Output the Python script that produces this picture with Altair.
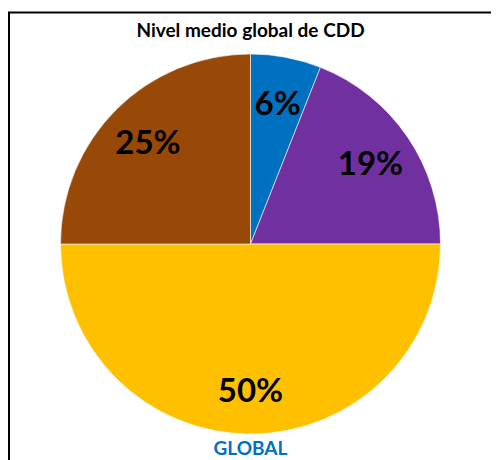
import altair as alt
import pandas as pd

segments = ["S1", "S2", "S3", "S4"]
values = [6, 19, 50, 25]
labels = ["6%", "19%", "50%", "25%"]
colors = ["#0070C0", "#7030A0", "#FFC000", "#984807"]
title_text = "Nivel medio global de CDD"
footer_text = "GLOBAL"

df = pd.DataFrame({"seg": segments, "value": values, "label": labels,
                   "order": list(range(len(segments)))})

CX, CY = 242.5, 236

base = alt.Chart(df).encode(
    theta=alt.Theta("value:Q", stack=True),
    order=alt.Order("order:Q"),
    x=alt.value(CX), y=alt.value(CY),
)
pie = base.mark_arc(outerRadius=190, stroke="white", strokeWidth=0.6).encode(
    color=alt.Color("seg:N", scale=alt.Scale(domain=segments, range=colors), legend=None)
)
text = base.mark_text(radius=145, dy=3, font="Lato", fontSize=33, fontWeight="bold",
                      color="black", baseline="middle").encode(text="label:N")

title = alt.Chart(pd.DataFrame({"t": [title_text]})).mark_text(
    font="Lato", fontSize=19, fontWeight="bold", color="black", baseline="middle"
).encode(x=alt.value(CX), y=alt.value(23), text="t:N")

footer = alt.Chart(pd.DataFrame({"t": [footer_text]})).mark_text(
    font="Lato", fontSize=19, fontWeight="bold", color="#0070C0", baseline="middle"
).encode(x=alt.value(CX), y=alt.value(441), text="t:N")

border_df = pd.DataFrame({"a": [0]})
left_rule = alt.Chart(border_df).mark_rule(color="black", strokeWidth=2).encode(
    x=alt.value(1), y=alt.value(4.5), y2=alt.value(452))
top_rule = alt.Chart(border_df).mark_rule(color="black", strokeWidth=2).encode(
    x=alt.value(0), x2=alt.value(483), y=alt.value(4.5))

chart = alt.layer(left_rule, top_rule, pie, text, title, footer).properties(
    width=483, height=452, autosize="none", padding=0
).configure_view(strokeWidth=0)

chart.save("out.html", embed_options={"renderer": "svg", "actions": False})
